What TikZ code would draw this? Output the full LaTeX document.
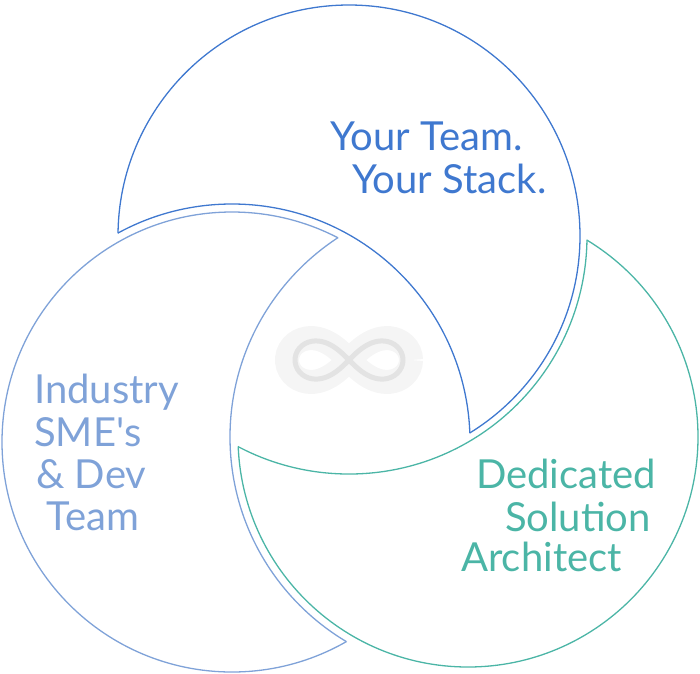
\documentclass[tikz,border=0pt]{standalone}
\usepackage{fontspec}
\setmainfont{Lato}
\definecolor{teamblue}{HTML}{3F78CF}
\definecolor{smeblue}{HTML}{7FA2D8}
\definecolor{archteal}{HTML}{4BB5A6}
\tikzset{
	ring/.style={line width=1.3pt},
	label/.style={font=\fontsize{40}{43}\selectfont, anchor=base west, inner sep=0pt}
}
\begin{document}
\begin{tikzpicture}[x=1pt, y=-1pt]
	\useasboundingbox (0,0) rectangle (700,673);

	% top circle, bitten by the left one
	\begin{scope}[even odd rule]
		\clip (-20,-20) rectangle (720,700) (232,442) circle (238);
		\draw [ring, teamblue] (349,236) circle (231);
	\end{scope}
	\begin{scope}
		\clip (349,236) circle (231);
		\draw [ring, teamblue] (232,442) circle (238);
	\end{scope}

	% left circle, bitten by the bottom one
	\begin{scope}[even odd rule]
		\clip (-20,-20) rectangle (720,700) (468,437) circle (238);
		\draw [ring, smeblue] (232,442) circle (230);
	\end{scope}
	\begin{scope}
		\clip (232,442) circle (230);
		\draw [ring, smeblue] (468,437) circle (238);
	\end{scope}

	% bottom circle, bitten by the top one
	\begin{scope}[even odd rule]
		\clip (-20,-20) rectangle (720,700) (349,236) circle (238);
		\draw [ring, archteal] (468,437) circle (230);
	\end{scope}
	\begin{scope}
		\clip (468,437) circle (230);
		\draw [ring, archteal] (349,236) circle (238);
	\end{scope}

	% infinity sign
	\draw [line width=24pt, gray!8, smooth, domain=0:360, samples=90]
		plot ({349 + 62*cos(\x)/(1+sin(\x)^2)}, {360 + 62*sin(\x)*cos(\x)/(1+sin(\x)^2)});
	\draw [line width=5pt, gray!22, smooth, domain=0:360, samples=90]
		plot ({349 + 54*cos(\x)/(1+sin(\x)^2)}, {360 + 54*sin(\x)*cos(\x)/(1+sin(\x)^2)});

	\node (team1) at (330,150) [label, teamblue] {Your Team.};
	\node (team2) at (352,193) [label, teamblue] {Your Stack.};
	\node (sme1) at (34,403) [label, smeblue] {Industry};
	\node (sme2) at (34,446) [label, smeblue] {SME\textquotesingle s};
	\node (sme3) at (36,488) [label, smeblue] {\& Dev};
	\node (sme4) at (46,530) [label, smeblue] {Team};
	\node (arch1) at (476,488) [label, archteal] {Dedicated};
	\node (arch2) at (505,531) [label, archteal] {Solution};
	\node (arch3) at (461,571) [label, archteal] {Architect};

\end{tikzpicture}
\end{document}
